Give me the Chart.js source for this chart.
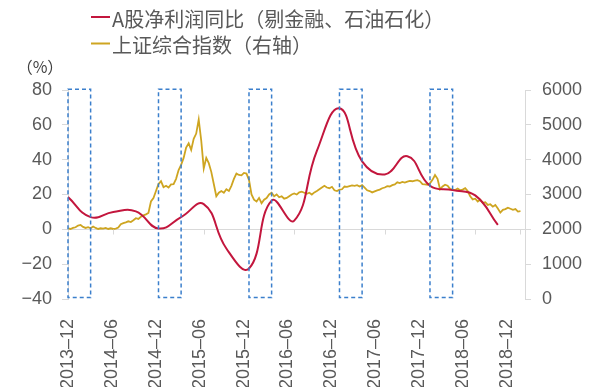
<!DOCTYPE html>
<html>
<head>
<meta charset="utf-8">
<script src="https://cdn.jsdelivr.net/npm/chart.js@4/dist/chart.umd.min.js"></script>
<style>
  html, body { margin: 0; padding: 0; background: #ffffff; }
  #wrap { width: 600px; height: 387px; }
</style>
</head>
<body>
<div id="wrap"><canvas id="chart" width="600" height="387"></canvas></div>
<script>
// Axis labels along the bottom (every six months)
const tickLabels = ['2013-12', '2014-06', '2014-12', '2015-06', '2015-12', '2016-06',
                    '2016-12', '2017-06', '2017-12', '2018-06', '2018-12'];

// Quarterly YoY growth of A-share net profit, ex financials and oil/petrochem (%)
const profitQuarters = ['2013-12', '2014-03', '2014-06', '2014-09', '2014-12', '2015-03',
                        '2015-06', '2015-09', '2015-12', '2016-03', '2016-06', '2016-09',
                        '2016-12', '2017-03', '2017-06', '2017-09', '2017-12', '2018-03',
                        '2018-06', '2018-09'];
const profitYoY = [18.5, 7, 10, 10.3, 0.5, 7, 14.5, -11, -22.5, 16.5,
                   5, 45, 69.5, 39, 31.5, 42, 25, 22.5, 19.5, 2.5];

// Shanghai Composite Index, three readings per month from 2013-12 to 2018-12
const indexStart = '2013-12';
const indexReadingsPerMonth = 3;
const indexClose = [
  2030, 2010, 2040,  2060, 2110, 2125,  2070, 2040, 2060,  2030, 2080, 2040,
  2010, 2030, 2020,  2040, 2010, 2030,  2010, 2020, 2050,  2150, 2180, 2200,
  2230, 2210, 2260,  2320, 2300, 2360,  2400, 2430, 2470,  2800, 2900, 3100,
  3300, 3380, 3210,  3250, 3200, 3290,  3300, 3450, 3700,  3850, 4050, 4350,
  4470, 4280, 4600,  4750, 5150, 4550,  3750, 4050, 3900,  3650, 3300, 2950,
  3050, 3100, 3050,  3150, 3100, 3250,  3450, 3600, 3560,  3550, 3620, 3600,
  3420, 3000, 2850,  2800, 2900, 2750,  2850, 2900, 3000,  3050, 2950, 3000,
  2920, 2950, 2880,  2900, 2950, 3000,  3030, 3000, 3060,  3080, 3050, 3020,
  3050, 3000, 3060,  3100, 3150, 3200,  3250, 3200, 3180,  3220, 3120, 3100,
  3140, 3150, 3230,  3220, 3240, 3260,  3250, 3270, 3230,  3270, 3200, 3120,
  3100, 3060, 3090,  3120, 3140, 3180,  3200, 3240, 3230,  3270, 3290, 3350,
  3330, 3360, 3340,  3370, 3390, 3380,  3400, 3410, 3380,  3300, 3290, 3280,
  3320, 3420, 3560,  3450, 3150, 3230,  3280, 3250, 3160,  3140, 3130, 3170,
  3120, 3140, 3180,  3100, 2950, 2860,  2880, 2800, 2850,  2760, 2780, 2700,
  2720, 2650, 2700,  2600, 2480, 2560,  2580, 2620, 2590,  2560, 2580, 2510,
  2520
];

// Year-end to end-of-March windows outlined with dashed boxes
const windowStarts = ['2013-12', '2014-12', '2015-12', '2016-12', '2017-12'];
const windowEnds   = ['2014-03', '2015-03', '2016-03', '2017-03', '2018-03'];

// Small marks on the zero line
const zeroLineTicks = ['2014-06', '2015-06', '2016-06', '2017-06', '2018-06', '2018-12'];

const unitLabel = '（%）';
const seriesNames = ['A股净利润同比（剔金融、石油石化）', '上证综合指数（右轴）'];

// Months elapsed since 2013-12
function monthIndex(s) {
  const [y, m] = s.split('-').map(Number);
  return (y - 2013) * 12 + (m - 12);
}

const RED = '#c3163d';
const GOLD = '#cea521';
const AXIS = '#d9d9d9';
const TEXT = '#595959';
const BOX = '#3b7fcc';
const numFont = { family: '"Liberation Sans", Arial, sans-serif', size: 18 };
const cjkFont = '"Noto Sans CJK SC", "Noto Sans", sans-serif';

const overlay = {
  id: 'overlay',
  afterDatasetsDraw(chart) {
    const { ctx, scales } = chart;
    const x = scales.x, y = scales.y;
    ctx.save();
    // tick marks hanging below the zero line
    ctx.strokeStyle = AXIS;
    ctx.lineWidth = 1;
    const y0 = Math.round(y.getPixelForValue(0)) + 0.5;
    zeroLineTicks.forEach(t => {
      const px = Math.round(x.getPixelForValue(monthIndex(t))) + 0.5;
      ctx.beginPath();
      ctx.moveTo(px, y0);
      ctx.lineTo(px, y0 + 5);
      ctx.stroke();
    });
    // dashed boxes
    ctx.strokeStyle = BOX;
    ctx.lineWidth = 1.5;
    ctx.setLineDash([4, 3]);
    const top = y.getPixelForValue(80.5);
    const bottom = y.getPixelForValue(-39.2);
    windowStarts.forEach((s, i) => {
      const l = x.getPixelForValue(monthIndex(s));
      const r = x.getPixelForValue(monthIndex(windowEnds[i]));
      ctx.strokeRect(l, top, r - l, bottom - top);
    });
    ctx.restore();
  },
  afterDraw(chart) {
    const { ctx } = chart;
    ctx.save();
    // legend
    const rows = [{ lineY: 17, textY: 19.5 }, { lineY: 43.5, textY: 45.5 }];
    chart.data.datasets.forEach((ds, i) => {
      const r = rows[i];
      ctx.strokeStyle = ds.borderColor;
      ctx.lineWidth = 2;
      ctx.beginPath();
      ctx.moveTo(91, r.lineY);
      ctx.lineTo(110, r.lineY);
      ctx.stroke();
      ctx.fillStyle = TEXT;
      ctx.font = '20px ' + cjkFont;
      ctx.textBaseline = 'middle';
      ctx.textAlign = 'left';
      ctx.fillText(ds.label, 112, r.textY);
    });
    // unit of the left axis
    ctx.font = '16px ' + cjkFont;
    ctx.textAlign = 'center';
    ctx.fillStyle = '#404040';
    ctx.fillText(unitLabel, 40, 67);
    ctx.restore();
  }
};

new Chart(document.getElementById('chart'), {
  type: 'line',
  data: {
    datasets: [
      {
        label: seriesNames[0],
        data: profitQuarters.map((q, i) => ({ x: monthIndex(q), y: profitYoY[i] })),
        borderColor: RED,
        borderWidth: 2,
        pointRadius: 0,
        tension: 0.45,
        xAxisID: 'x',
        yAxisID: 'y'
      },
      {
        label: seriesNames[1],
        data: indexClose.map((v, i) => ({ x: monthIndex(indexStart) + i / indexReadingsPerMonth, y: v })),
        borderColor: GOLD,
        borderWidth: 1.8,
        pointRadius: 0,
        tension: 0,
        xAxisID: 'x',
        yAxisID: 'y2'
      }
    ]
  },
  options: {
    responsive: false,
    animation: false,
    layout: { padding: { top: 90, left: 0, right: 0, bottom: 0 } },
    plugins: { legend: { display: false }, tooltip: { enabled: false } },
    scales: {
      x: {
        type: 'linear',
        min: 0,
        max: 60.6,
        display: false
      },
      xl: {
        type: 'linear',
        position: 'bottom',
        min: 0,
        max: 10.41,
        afterBuildTicks: s => { s.ticks = tickLabels.map((_, i) => ({ value: i })); },
        afterFit: s => { s.height = 88; },
        grid: { display: false },
        border: { display: false },
        ticks: {
          autoSkip: false,
          minRotation: 90,
          maxRotation: 90,
          padding: 12,
          color: TEXT,
          font: numFont,
          callback: v => (tickLabels[v] || '').replace('-', '–')
        }
      },
      y: {
        position: 'left',
        min: -40,
        max: 80,
        afterFit: s => { s.width = 68; },
        ticks: {
          stepSize: 20,
          padding: 10,
          color: TEXT,
          font: numFont,
          callback: v => String(v).replace('-', '−')
        },
        grid: {
          color: c => (c.tick && c.tick.value === 0 ? AXIS : 'rgba(0,0,0,0)'),
          tickColor: AXIS,
          tickLength: 6,
          lineWidth: 1
        },
        border: { color: AXIS }
      },
      y2: {
        position: 'right',
        min: 0,
        max: 6000,
        afterFit: s => { s.width = 75; },
        ticks: {
          stepSize: 1000,
          padding: 11,
          color: TEXT,
          font: numFont,
          callback: v => String(v)
        },
        grid: { drawOnChartArea: false, tickColor: AXIS, tickLength: 6 },
        border: { color: AXIS }
      }
    }
  },
  plugins: [overlay]
});
</script>
</body>
</html>
